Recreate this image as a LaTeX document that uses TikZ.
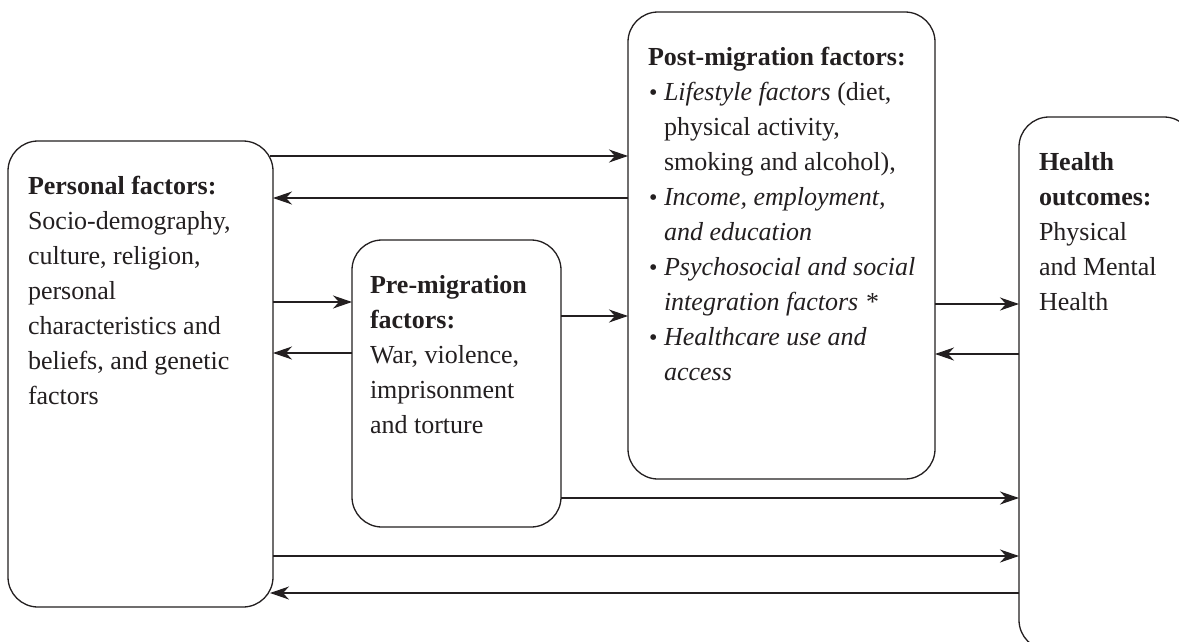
\documentclass[tikz,border=0pt]{standalone}
\usepackage{fontspec}
\setmainfont{Liberation Serif}
\usetikzlibrary{arrows.meta}
\definecolor{ink}{HTML}{231F20}
\newcommand{\bul}{\makebox[16pt][l]{\hspace{1pt}\raisebox{0pt}{\fontsize{24}{24}\selectfont\textbullet}}}
\newcommand{\ind}{\hspace*{16pt}}
\begin{document}
\begin{tikzpicture}[x=1pt,y=-1pt,
  box/.style={draw=ink, line width=1.3pt, rounded corners=30pt, inner sep=0pt, outer sep=0pt, anchor=north west},
  txt/.style={anchor=north west, inner sep=0pt, outer sep=0pt, align=left, text=ink, font=\fontsize{26}{35}\selectfont},
  arr/.style={draw=ink, line width=1.2pt, -{Stealth[length=19pt,width=13pt,inset=6pt]}}]
\useasboundingbox (0,0) rectangle (1179,641);
\clip (0,0) rectangle (1179,641);
\fill[white] (0,0) rectangle (1179,641);

% boxes
\node[box, minimum width=265pt, minimum height=466pt] (personal) at (8,141) {};
\node[box, minimum width=209pt, minimum height=287pt] (pre) at (352,240) {};
\node[box, minimum width=307pt, minimum height=467pt] (post) at (628,12) {};
\node[box, minimum width=175pt, minimum height=533pt] (health) at (1019,117) {};

% texts
\node[txt] (personaltxt) at ([shift={(20,28.5)}]personal.north west)
  {\strut\textbf{Personal factors:}\\Socio-demography,\\culture, religion,\\personal\\characteristics and\\beliefs, and genetic\\factors};
\node[txt] (pretxt) at ([shift={(18,28.5)}]pre.north west)
  {\strut\textbf{Pre-migration}\\\textbf{factors:}\\War, violence,\\imprisonment\\and torture};
\node[txt] (posttxt) at ([shift={(20,28.5)}]post.north west)
  {\strut\textbf{Post-migration factors:}\\
   \bul\textit{Lifestyle factors} (diet,\\
   \ind physical activity,\\
   \ind smoking and alcohol),\\
   \bul\textit{Income, employment,}\\
   \ind\textit{and education}\\
   \bul\textit{Psychosocial and social}\\
   \ind\textit{integration factors *}\\
   \bul\textit{Healthcare use and}\\
   \ind\textit{access}};
\node[txt] (healthtxt) at ([shift={(20,28.5)}]health.north west)
  {\strut\textbf{Health}\\\textbf{outcomes:}\\Physical\\and Mental\\Health};

% connectors
\draw[arr] ([xshift=-3pt]personal.east |- 0,156) -- (post.west |- 0,156);
\draw[arr] (post.west |- 0,198) -- (personal.east |- 0,198);
\draw[arr] (personal.east |- 0,302) -- (pre.west |- 0,302);
\draw[arr] (pre.west |- 0,353) -- (personal.east |- 0,353);
\draw[arr] (pre.east |- 0,316) -- (post.west |- 0,316);
\draw[arr] (post.east |- 0,304) -- (health.west |- 0,304);
\draw[arr] (health.west |- 0,354) -- (post.east |- 0,354);
\draw[arr] (pre.east |- 0,498) -- (health.west |- 0,498);
\draw[arr] (personal.east |- 0,556) -- (health.west |- 0,556);
\draw[arr] (health.west |- 0,593) -- ([xshift=-3pt]personal.east |- 0,593);
\end{tikzpicture}
\end{document}
